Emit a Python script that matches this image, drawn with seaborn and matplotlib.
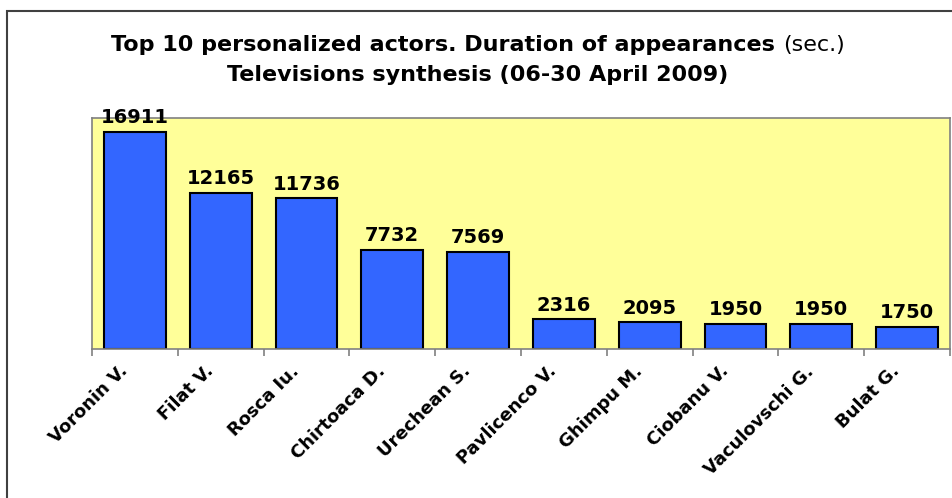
import matplotlib
matplotlib.use("Agg")
import matplotlib.pyplot as plt
import matplotlib.transforms as mtransforms
import seaborn as sns
import pandas as pd
from matplotlib.patches import Rectangle

actors = ["Voronin V.", "Filat V.", "Rosca Iu.", "Chirtoaca D.", "Urechean S.",
          "Pavlicenco V.", "Ghimpu M.", "Ciobanu V.", "Vaculovschi G.", "Bulat G."]
seconds = [16911, 12165, 11736, 7732, 7569, 2316, 2095, 1950, 1950, 1750]

df = pd.DataFrame({"actor": actors, "sec": seconds})

sns.set_style("white")
plt.rcParams['font.family'] = ['DejaVu Sans']
plt.rcParams['text.color'] = 'black'

fig = plt.figure(figsize=(9.53, 4.98), dpi=100)
ax = fig.add_axes([92 / 953, 1 - 349 / 498, (950 - 92) / 953, (349 - 118) / 498])

sns.barplot(data=df, x="actor", y="sec", color="#3366FF", width=0.72,
            edgecolor="black", linewidth=1.5, saturation=1, ax=ax)
ax.set_facecolor("#FFFF99")
ax.set_ylim(0, 18000)
ax.set_xlim(-0.5, len(actors) - 0.5)
ax.set_xlabel("")
ax.set_ylabel("")
ax.set_yticks([])

for s in ax.spines.values():
    s.set_color("#808080")
    s.set_linewidth(1.2)

# ticks at category boundaries, labels at centres
ax.set_xticks([i - 0.5 for i in range(len(actors) + 1)], minor=False)
ax.set_xticklabels([])
ax.tick_params(axis="x", which="major", bottom=True, direction="out", length=5,
               color="#808080", width=1.2)
ax.set_xticks(range(len(actors)), minor=True)
ax.set_xticklabels(actors, minor=True, rotation=45, ha="right", va="center",
                   rotation_mode="anchor", fontsize=13, fontweight="bold", color="black")
ax.tick_params(axis="x", which="minor", bottom=True, length=0, pad=14)
shift = mtransforms.ScaledTranslation(-10 / 100, 0, fig.dpi_scale_trans)
for lab in ax.get_xticklabels(minor=True):
    lab.set_transform(lab.get_transform() + shift)

for i, v in enumerate(seconds):
    ax.text(i, v + 350, str(v), ha="center", va="bottom", fontsize=14,
            fontweight="bold", color="black")

# title, bold with "(sec.)" in regular weight
t1 = fig.text(0, 1 - 45 / 498, "Top 10 personalized actors. Duration of appearances ",
              fontsize=16, fontweight="bold", va="center", ha="left", color="black")
t2 = fig.text(0, 1 - 45 / 498, "(sec.)", fontsize=16, va="center", ha="left", color="black")
fig.canvas.draw()
r = fig.canvas.get_renderer()
w1 = t1.get_window_extent(r).width
w2 = t2.get_window_extent(r).width
x0 = (478 - (w1 + w2) / 2) / 953
t1.set_x(x0)
t2.set_x(x0 + w1 / 953)
fig.text(478 / 953, 1 - 75 / 498, "Televisions synthesis (06-30 April 2009)",
         fontsize=16, fontweight="bold", va="center", ha="center", color="black")

fig.patches.append(Rectangle((7 / 953, -0.1), 1.0, 1 - 11 / 498 + 0.1, transform=fig.transFigure,
                             fill=False, edgecolor="#404040", linewidth=1.5))

fig.savefig("out.png", dpi=100)
